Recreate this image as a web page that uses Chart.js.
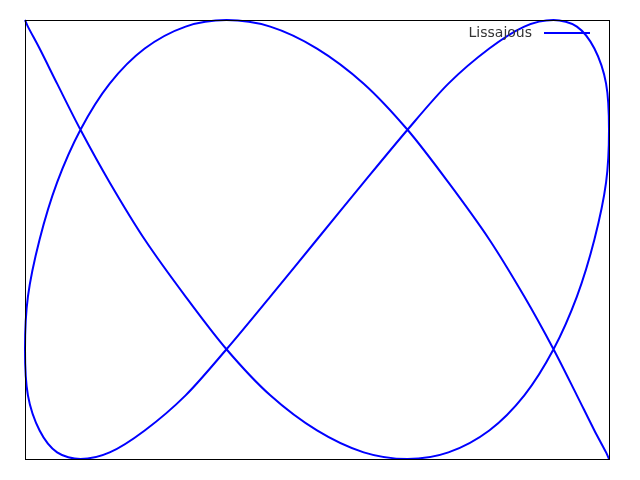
<!DOCTYPE html>
<html>
<head>
<meta charset="utf-8">
<script src="https://cdn.jsdelivr.net/npm/chart.js@4/dist/chart.umd.min.js"></script>
<style>
  html, body { margin: 0; padding: 0; background: #fff; }
  #wrap { width: 640px; height: 480px; }
</style>
</head>
<body>
<div id="wrap"><canvas id="lissajousChart" width="640" height="480"></canvas></div>
<script>
// Points, in plot units (-1..1 on both axes)
const xValues = [
  -1, -0.99, -0.95, -0.89, -0.81, -0.71, -0.59, -0.45, -0.31, -0.16,
  0, 0.16, 0.31, 0.45, 0.59, 0.71, 0.81, 0.89, 0.95, 0.99,
  1, 0.99, 0.95, 0.89, 0.81, 0.71, 0.59, 0.45, 0.31, 0.16,
  0, -0.16, -0.31, -0.45, -0.59, -0.71, -0.81, -0.89, -0.95, -0.99,
  -1, -0.99, -0.95, -0.89, -0.81, -0.71, -0.59, -0.45, -0.31, -0.16,
  0, 0.16, 0.31, 0.45, 0.59, 0.71, 0.81, 0.89, 0.95, 0.99, 1
];
const yValues = [
  1, 0.97, 0.87, 0.71, 0.5, 0.26, 0, -0.26, -0.5, -0.71,
  -0.87, -0.97, -1, -0.97, -0.87, -0.71, -0.5, -0.26, 0, 0.26,
  0.5, 0.71, 0.87, 0.97, 1, 0.97, 0.87, 0.71, 0.5, 0.26,
  0, -0.26, -0.5, -0.71, -0.87, -0.97, -1, -0.97, -0.87, -0.71,
  -0.5, -0.26, 0, 0.26, 0.5, 0.71, 0.87, 0.97, 1, 0.97,
  0.87, 0.71, 0.5, 0.26, 0, -0.26, -0.5, -0.71, -0.87, -0.97, -1
];
const seriesLabel = "Lissajous";

const points = xValues.map(function (x, i) {
  return { x: x, y: yValues[i] };
});

// frame around the plot area + gnuplot-like key (text then line sample)
const framePlugin = {
  id: "frameAndKey",
  afterDraw: function (chart) {
    const ctx = chart.ctx;
    const a = chart.chartArea;
    ctx.save();
    ctx.strokeStyle = "#000";
    ctx.lineWidth = 1;
    ctx.strokeRect(a.left + 0.5, a.top + 0.5, a.right - a.left, a.bottom - a.top);

    const ds = chart.data.datasets[0];
    const y = a.top + 13;
    ctx.font = "14px 'DejaVu Sans'";
    ctx.fillStyle = "#333";
    ctx.textAlign = "right";
    ctx.textBaseline = "middle";
    ctx.fillText(ds.label, a.right - 77, y);
    ctx.strokeStyle = ds.borderColor;
    ctx.lineWidth = 2;
    ctx.beginPath();
    ctx.moveTo(a.right - 65, y);
    ctx.lineTo(a.right - 19, y);
    ctx.stroke();
    ctx.restore();
  },
};

new Chart(document.getElementById("lissajousChart").getContext("2d"), {
  type: "scatter",
  data: {
    datasets: [
      {
        label: seriesLabel,
        data: points,
        showLine: true,
        borderColor: "#0000ff",
        backgroundColor: "#0000ff",
        borderWidth: 2,
        pointRadius: 0,
        tension: 0.3,
        clip: 3,
      },
    ],
  },
  options: {
    responsive: false,
    animation: false,
    layout: {
      padding: { left: 25, top: 20, right: 31, bottom: 21 },
    },
    plugins: {
      legend: { display: false },
      tooltip: { enabled: false },
    },
    scales: {
      x: {
        type: "linear",
        min: -1,
        max: 1,
        ticks: { display: false },
        grid: { display: false, drawTicks: false },
        border: { display: false },
      },
      y: {
        type: "linear",
        min: -1,
        max: 1,
        ticks: { display: false },
        grid: { display: false, drawTicks: false },
        border: { display: false },
      },
    },
  },
  plugins: [framePlugin],
});
</script>
</body>
</html>
